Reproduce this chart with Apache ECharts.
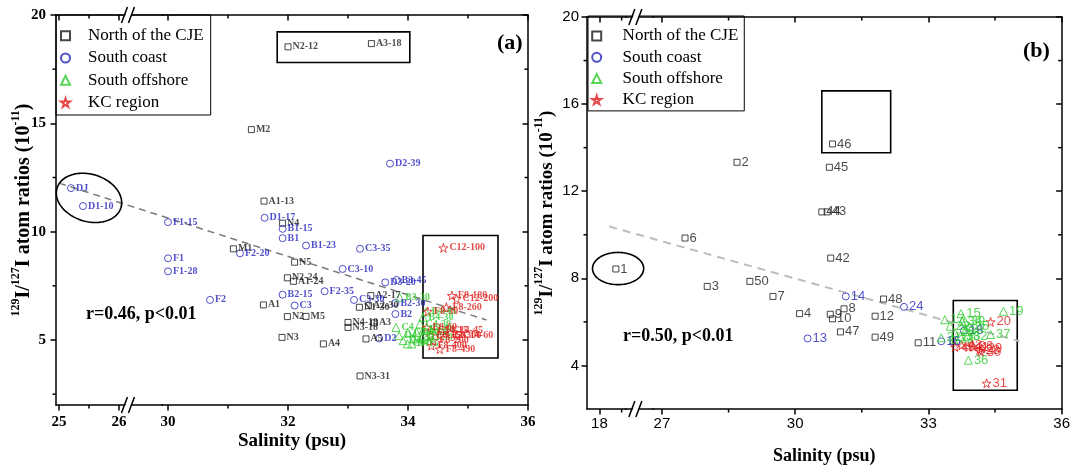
<!DOCTYPE html>
<html><head><meta charset="utf-8">
<script src="https://cdn.jsdelivr.net/npm/echarts@6.0.0/dist/echarts.min.js"></script>
<style>html,body{margin:0;padding:0;background:#fff}#c{width:1073px;height:470px}</style>
</head><body><div id="c"></div>
<script>
// ---------- Panel (a) data ----------
const aNorthLab = ['N2-12','A3-18','M2','A1-13','N4','M1','N5','N2-24','A1-24','A1','N2','M5','N3','A4','N3-31','A2-17','N1-30','A2-30','N4-18','N3-18','A3','A5'];
const aNorthSal = [32.0,33.39,31.39,31.6,31.91,31.09,32.11,31.99,32.09,31.59,31.99,32.3,31.9,32.59,33.2,33.38,33.19,33.34,33.0,33.0,33.44,33.3];
const aNorthVal = [18.53,18.68,14.71,11.41,10.39,9.21,8.59,7.87,7.71,6.62,6.08,6.09,5.12,4.82,3.34,7.05,6.51,6.59,5.81,5.58,5.79,5.05];

const aCoastLab = ['DJ','D1-10','F1-15','D1-17','B1-15','B1','B1-23','C3-35','F2-20','C3-10','F1','F1-28','D3-20','B3-45','B2-15','C3','F2','F2-35','C3-30','B2-30','B2','D2','D2-39'];
const aCoastSal = [25.2,25.4,30.0,31.61,31.91,31.91,32.3,33.2,31.2,32.91,30.0,30.0,33.62,33.81,31.91,32.11,30.7,32.61,33.1,33.79,33.79,33.52,33.7];
const aCoastVal = [12.01,11.18,10.44,10.64,10.13,9.70,9.36,9.21,9.0,8.28,8.77,8.17,7.66,7.77,7.09,6.59,6.85,7.25,6.85,6.71,6.2,5.07,13.14];

const aOffLab = ['B3-30','B4-30','B4-45','C4-30','C4','D4','D4-30','B4','D4-50','C4-50','B4-50','C5','D3-50','C4-15'];
const aOffSal = [33.86,34.25,34.3,34.2,33.8,33.85,33.92,34.06,34.14,34.0,34.26,34.09,34.23,33.99];
const aOffVal = [6.97,6.05,6.3,5.74,5.58,5.2,4.97,4.82,5.35,5.35,5.51,5.05,5.12,4.82];

const aKcLab = ['C12-100','F8-180','C12-200','F8-260','F8-30','F8-60','C14-15','C14-45','F8-150','C12-300','C14-60','F8-200','F8-400','F8-490'];
const aKcSal = [34.59,34.73,34.81,34.64,34.33,34.31,34.39,34.64,34.37,34.53,34.81,34.42,34.39,34.53];
const aKcVal = [9.25,7.05,6.9,6.51,6.32,5.58,5.43,5.43,5.2,5.2,5.2,4.97,4.74,4.58];

const aFitSal = [25.0, 35.31];
const aFitVal = [12.24, 5.92];
const aBoxTop = [[31.82,19.22],[34.03,17.81]];
const aBoxRight = [[34.25,9.82],[35.5,4.17]];
const aEllipse = {cx:25.5, cy:11.56, left:24.943, top:12.65, rot:0.3};

const aXTicks = [25,26,30,32,34,36];
const aXMinor = [25.5,31,33,35];
const aYTicks = [5,10,15,20];
const aYMinor = [2.5,7.5,12.5,17.5];
const aXBreak = {start:26.1, end:29.9, gap:'7.84%'};

// ---------- Panel (b) data ----------
const bNorthLab = ['1','2','3','4','6','7','8','9','10','11','12','42','43','44','45','46','47','48','49','50'];
const bNorthSal = [18.37,28.69,28.02,30.1,27.52,29.5,31.1,30.79,30.84,32.77,31.8,30.8,30.72,30.6,30.77,30.84,31.02,31.99,31.8,28.98];
const bNorthVal = [8.43,13.33,7.63,6.38,9.85,7.17,6.6,6.35,6.14,5.04,6.26,8.93,11.05,11.05,13.1,14.17,5.54,7.05,5.3,7.86];

const bCoastLab = ['13','14','24','16','18'];
const bCoastSal = [30.28,31.14,32.45,33.29,33.8];
const bCoastVal = [5.24,7.17,6.69,5.11,5.6];

const bOffLab = ['15','19','37','36','17','21','22','39','25','27','32','33','34','35','38'];
const bOffSal = [33.73,34.69,34.4,33.9,33.37,33.29,33.49,33.83,33.6,33.84,33.88,33.57,33.76,33.92,33.72];
const bOffVal = [6.38,6.49,5.42,4.24,6.1,5.27,5.8,6.0,5.5,5.65,5.34,5.19,6.03,5.8,5.34];

const bKcLab = ['20','31','40','43','26','28','29','30','41'];
const bKcSal = [34.4,34.31,33.6,33.75,34.0,34.15,34.2,34.18,33.9];
const bKcVal = [6.0,3.18,4.85,4.92,4.88,4.7,4.78,4.62,4.85];

const bFitSal = [18.22, 35.05];
const bFitVal = [10.38, 5.11];
const bBoxTop = [[30.6,16.61],[32.15,13.77]];
const bBoxRight = [[33.56,6.98],[35.0,2.86]];
const bEllipse = {cx:18.42, cy:8.45, left:17.844, top:9.19, rot:0};

const bXTicks = [18,27,30,33,36];
const bXMinor = [18.5,28.5,31.5,34.5];
const bYTicks = [4,8,12,16,20];
const bYMinor = [6,10,14,18];
const bXBreak = {start:18.6, end:26.8, gap:'5.68%'};

const seriesNames = ['North of the CJE','South coast','South offshore','KC region'];

// ---------- styling ----------
const SERIF = "'Liberation Serif','DejaVu Serif',serif";
const SANS = "'Liberation Sans','DejaVu Sans',sans-serif";
const COLORS = ['#1a1a1a','#2424bb','#2fcc2f','#e01b1b'];
const STAR = 'path://M50,0 L61,35 L98,35 L68,57 L79,91 L50,70 L21,91 L32,57 L2,35 L39,35 Z';
const SYMBOLS = ['rect','circle','triangle',STAR];
const SIZES = [6,7,8,9];

function zip(s, v, l) { return s.map((x, i) => [x, v[i], l[i]]); }

function scatterSeries(idx, axisIdx, data, labelFont) {
  return {
    type:'scatter', name: seriesNames[idx], xAxisIndex: axisIdx, yAxisIndex: axisIdx,
    data, symbol: SYMBOLS[idx], symbolSize: SIZES[idx], z: 5,
    itemStyle: {color:'rgba(0,0,0,0)', borderColor: COLORS[idx], borderWidth: 1},
    label: Object.assign({show:true, position:'right', distance:1, color: COLORS[idx],
      formatter: p => p.data[2]}, labelFont),
    emphasis: {disabled:true}
  };
}

function ellipseSeries(axisIdx, e) {
  return {
    type:'custom', xAxisIndex:axisIdx, yAxisIndex:axisIdx, clip:false, silent:true, z:4,
    data:[[e.cx, e.cy]],
    renderItem: function (params, api) {
      const c = api.coord([e.cx, e.cy]);
      const l = api.coord([e.left, e.cy]);
      const t = api.coord([e.cx, e.top]);
      const rx = c[0] - l[0], ry = c[1] - t[1];
      const pts = [];
      for (let i = 0; i < 120; i++) {
        const a = i / 120 * Math.PI * 2;
        const x = rx * Math.cos(a), y = ry * Math.sin(a);
        pts.push([c[0] + x * Math.cos(e.rot) - y * Math.sin(e.rot), c[1] + x * Math.sin(e.rot) + y * Math.cos(e.rot)]);
      }
      return {type:'polygon', shape:{points:pts}, style:{fill:'none', stroke:'#000', lineWidth:1.6}};
    }
  };
}

// "//" break marks, axis line across the break, and minor ticks, all placed through the axes' coordinates
function decorSeries(axisIdx, brk, frac, yMin, yMax, xMin, xMax, xMinor, yMinor) {
  return {
    type:'custom', xAxisIndex:axisIdx, yAxisIndex:axisIdx, clip:false, silent:true, z:6,
    data:[[brk.start, yMin]],
    renderItem: function (params, api) {
      const x0 = api.coord([brk.start, yMin])[0], x1 = api.coord([brk.end, yMin])[0];
      const m = x0 + (x1 - x0) * frac;
      const yb = api.coord([brk.start, yMin])[1], yt = api.coord([brk.start, yMax])[1];
      const xl = api.coord([xMin, yMin])[0], xr = api.coord([xMax, yMin])[0];
      const ch = [];
      const ls = {stroke:'#000', lineWidth:1.5};
      [yb, yt].forEach(y => {
        ch.push({type:'line', shape:{x1:x0-1, y1:y, x2:x1+1, y2:y}, style:ls});
        ch.push({type:'polygon', shape:{points:[[m-7,y+7],[m-1,y-7],[m+5,y-7],[m-1,y+7]]}, style:{fill:'#fff'}});
        ch.push({type:'line', shape:{x1:m-8, y1:y+8, x2:m-2, y2:y-8}, style:ls});
        ch.push({type:'line', shape:{x1:m-1, y1:y+8, x2:m+5, y2:y-8}, style:ls});
      });
      xMinor.forEach(v => {
        const x = api.coord([v, yMin])[0];
        ch.push({type:'line', shape:{x1:x, y1:yb, x2:x, y2:yb+3.5}, style:ls});
        ch.push({type:'line', shape:{x1:x, y1:yt, x2:x, y2:yt+3.5}, style:ls});
      });
      yMinor.forEach(v => {
        const y = api.coord([xMin, v])[1];
        ch.push({type:'line', shape:{x1:xl, y1:y, x2:xl-3.5, y2:y}, style:ls});
        ch.push({type:'line', shape:{x1:xr, y1:y, x2:xr-3.5, y2:y}, style:ls});
      });
      return {type:'group', children:ch};
    }
  };
}

function fitSeries(axisIdx, sal, val, color, width, dash, boxes) {
  return {
    type:'line', xAxisIndex:axisIdx, yAxisIndex:axisIdx, data: sal.map((s, i) => [s, val[i]]),
    symbol:'none', silent:true, z:3,
    lineStyle:{color, width, type: dash},
    markArea: {silent:true, itemStyle:{color:'rgba(0,0,0,0)', borderColor:'#000', borderWidth:1.6},
      data: boxes.map(b => [{coord:b[0]}, {coord:b[1]}])}
  };
}

const lineStyleAxis = {color:'#000', width:1.5};
const yName = '{s|129}{n|I/}{s|127}{n|I atom ratios (10}{s|-11}{n|)}';
function yNameStyle(size) {
  return {fontFamily:SERIF, fontWeight:'bold', fontSize:size, color:'#000',
    rich:{n:{fontFamily:SERIF, fontWeight:'bold', fontSize:size, lineHeight:24, verticalAlign:'bottom', color:'#000'},
          s:{fontFamily:SERIF, fontWeight:'bold', fontSize:12, lineHeight:13, verticalAlign:'top', color:'#000'}}};
}

function xAxesFor(grid, min, max, brk, ticks, labelStyle, nameGap, nameSize) {
  const base = {type:'value', gridIndex:grid, min, max, breaks:[brk],
    breakArea:{show:false, itemStyle:{opacity:0, borderWidth:0}}, splitLine:{show:false}};
  return [
    Object.assign({}, base, {position:'bottom', axisLine:{lineStyle:lineStyleAxis},
      axisTick:{customValues:ticks, length:5.5, lineStyle:lineStyleAxis},
      axisLabel:Object.assign({customValues:ticks, color:'#000'}, labelStyle),
      name:'Salinity (psu)', nameLocation:'middle', nameGap, nameMoveOverlap:false,
      nameTextStyle:{fontFamily:SERIF, fontWeight:'bold', fontSize:nameSize, color:'#000'}}),
    Object.assign({}, base, {position:'top', axisLine:{lineStyle:lineStyleAxis},
      axisTick:{customValues:ticks, inside:true, length:5.5, lineStyle:lineStyleAxis},
      axisLabel:{show:false}})
  ];
}
function yAxesFor(grid, ticks, labelStyle, nameGap, nameSize) {
  const base = {type:'value', gridIndex:grid, min:2, max:20, splitLine:{show:false}};
  return [
    Object.assign({}, base, {position:'left', axisLine:{lineStyle:lineStyleAxis},
      axisTick:{customValues:ticks, length:5.5, lineStyle:lineStyleAxis},
      axisLabel:Object.assign({customValues:ticks, color:'#000'}, labelStyle),
      name:yName, nameLocation:'middle', nameGap, nameMoveOverlap:false, nameTextStyle:yNameStyle(nameSize)}),
    Object.assign({}, base, {position:'right', axisLine:{lineStyle:lineStyleAxis},
      axisTick:{customValues:ticks, inside:true, length:5.5, lineStyle:lineStyleAxis},
      axisLabel:{show:false}})
  ];
}

const aTickFont = {fontFamily:SERIF, fontWeight:'bold', fontSize:15};
const bTickFont = {fontFamily:SANS, fontSize:15};
const aLabelFont = {fontFamily:SERIF, fontWeight:'bold', fontSize:10};
const bLabelFont = {fontFamily:SANS, fontSize:13};

function legendFor(left, top, padding, gap, textPad) {
  return {
    orient:'vertical', left, top, data:seriesNames, padding, itemGap:gap,
    itemWidth:9, itemHeight:9, borderColor:'#000', borderWidth:1, selectedMode:false,
    textStyle:{fontFamily:SERIF, fontSize:17, color:'#000', lineHeight:18, padding:[0,0,0,textPad]}
  };
}

const aXAxes = xAxesFor(0, 24.95, 36, aXBreak, aXTicks, Object.assign({margin:10}, aTickFont), 27, 19);
const bXAxes = xAxesFor(1, 17.72, 36, bXBreak, bXTicks, Object.assign({margin:7}, bTickFont), 38, 18);
const aYAxes = yAxesFor(0, aYTicks, Object.assign({margin:10}, aTickFont), 22, 20);
const bYAxes = yAxesFor(1, bYTicks, Object.assign({margin:8}, bTickFont), 30, 19);

const option = {
  animation:false,
  backgroundColor:'#fff',
  grid:[
    {left:56, top:15, width:472, height:390},
    {left:587, top:17, width:475, height:392}
  ],
  legend:[
    legendFor(56, 15, [11.7,7,3.4,4], 4.3, 13),
    legendFor(588, 16, [11,6,2,3.2], 3.3, 16.4)
  ],
  xAxis: aXAxes.concat(bXAxes),
  yAxis: aYAxes.concat(bYAxes),
  graphic:[
    {type:'text', left:86, top:305, style:{text:'r=0.46, p<0.01', font:"bold 18px 'Liberation Serif'", fill:'#000'}},
    {type:'text', left:497, top:32, style:{text:'(a)', font:"bold 22px 'Liberation Serif'", fill:'#000'}},
    {type:'text', left:623, top:327, style:{text:'r=0.50, p<0.01', font:"bold 18px 'Liberation Serif'", fill:'#000'}},
    {type:'text', left:1023, top:40, style:{text:'(b)', font:"bold 22px 'Liberation Serif'", fill:'#000'}}
  ],
  series:[
    fitSeries(0, aFitSal, aFitVal, '#7a7a7a', 1.5, [7,5], [aBoxTop, aBoxRight]),
    ellipseSeries(0, aEllipse),
    decorSeries(0, aXBreak, 0.12, 2, 20, 24.95, 36, aXMinor, aYMinor),
    scatterSeries(0, 0, zip(aNorthSal, aNorthVal, aNorthLab), aLabelFont),
    scatterSeries(1, 0, zip(aCoastSal, aCoastVal, aCoastLab), aLabelFont),
    scatterSeries(2, 0, zip(aOffSal, aOffVal, aOffLab), aLabelFont),
    scatterSeries(3, 0, zip(aKcSal, aKcVal, aKcLab), aLabelFont),
    fitSeries(2, bFitSal, bFitVal, '#bdbdbd', 2, [8,6], [bBoxTop, bBoxRight]),
    ellipseSeries(2, bEllipse),
    decorSeries(2, bXBreak, 0.4, 2, 20, 17.72, 36, bXMinor, bYMinor),
    scatterSeries(0, 2, zip(bNorthSal, bNorthVal, bNorthLab), bLabelFont),
    scatterSeries(1, 2, zip(bCoastSal, bCoastVal, bCoastLab), bLabelFont),
    scatterSeries(2, 2, zip(bOffSal, bOffVal, bOffLab), bLabelFont),
    scatterSeries(3, 2, zip(bKcSal, bKcVal, bKcLab), bLabelFont)
  ]
};

const chart = echarts.init(document.getElementById('c'), null, {renderer:'canvas'});
chart.setOption(option);
</script>
</body></html>
